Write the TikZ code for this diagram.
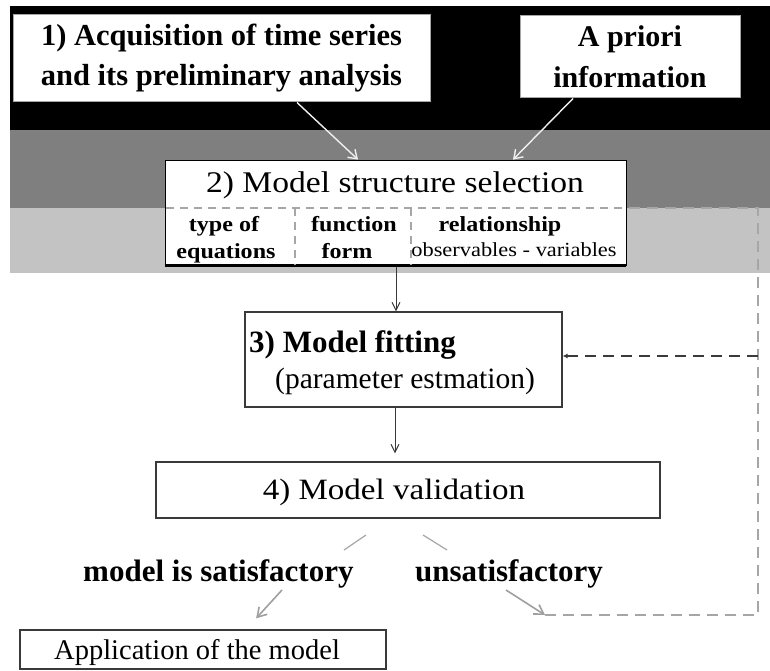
\documentclass[tikz,border=0pt]{standalone}
\usepackage{fontspec}
\setmainfont{Liberation Serif}
\newfontfamily\fA[FakeStretch=1.12]{Liberation Serif}
\usetikzlibrary{arrows.meta}
\definecolor{darkband}{HTML}{7F7F7F}
\definecolor{lightband}{HTML}{C3C3C3}
\definecolor{boxline}{HTML}{3A3A3A}
\begin{document}
\begin{tikzpicture}[x=1pt,y=-1pt,
  wbox/.style={draw=gray!70, line width=1pt, fill=white, inner sep=0pt, align=center},
  lbox/.style={draw=boxline, line width=1.2pt, fill=white, inner sep=0pt},
  txt/.style={anchor=base, inner sep=0pt},
  txtw/.style={anchor=base west, inner sep=0pt},
  lightarrow/.style={draw=gray!12, line width=1.4pt, -{Straight Barb[length=8pt,width=11pt]}},
  darkarrow/.style={draw=boxline, line width=1pt, -{Straight Barb[length=8pt,width=8pt]}},
  greyarrow/.style={draw=gray!75, line width=1.6pt, -{Straight Barb[length=9pt,width=11pt]}},
  tick/.style={draw=gray!70, line width=1.2pt},
  fb/.style={draw=gray!70, line width=1.5pt, dash pattern=on 11pt off 7pt},
  fbdark/.style={draw=boxline, line width=1.5pt, dash pattern=on 11pt off 7pt},
  sep/.style={draw=gray!70, line width=1.2pt, dash pattern=on 8pt off 6pt}
]
\useasboundingbox (0,0) rectangle (770,671);
\fill[white] (0,0) rectangle (770,671);
\fill[black] (10,6) rectangle (770,130);
\fill[darkband] (10,130) rectangle (770,208);
\fill[lightband] (10,208) rectangle (770,273);

% 1) acquisition
\node[wbox, minimum width=417pt, minimum height=87pt,
  font={\bfseries\fontsize{30.5}{40}\selectfont}] (acq) at (221.5,58.5)
  {1) Acquisition of time series\\ and its preliminary analysis};
% a priori
\node[wbox, minimum width=220pt, minimum height=82pt,
  font={\bfseries\fontsize{30}{41}\selectfont}] (apr) at (630,57)
  {A priori\\ information};

% 2) model structure selection
\node[draw=black, line width=0.8pt, fill=white, minimum width=461pt, minimum height=105pt, inner sep=0pt] (mss) at (395.5,212.5) {};
\draw[line width=2.6pt] (mss.south west) -- (mss.south east);
\node[txt] (mssT) at (395,192) {\fA\fontsize{30}{30}\selectfont 2) Model structure selection};
\coordinate (d1) at (166,208);
\coordinate (d2) at (625,208);
\draw[sep] (d1) -- (d2);
\draw[sep] (295,0 |- d1) -- (295,0 |- mss.south);
\draw[sep] (411,0 |- d1) -- (411,0 |- mss.south);
\node[txt] (c1a) at (224,231) {\fA\bfseries\fontsize{21.5}{21.5}\selectfont type of};
\node[txt] (c1b) at (226,258) {\fA\bfseries\fontsize{21.5}{21.5}\selectfont equations};
\node[txt] (c2a) at (354,231) {\fA\bfseries\fontsize{21.5}{21.5}\selectfont function};
\node[txt] (c2b) at (347,258) {\fA\bfseries\fontsize{21.5}{21.5}\selectfont form};
\node[txt] (c3a) at (500,231) {\fA\bfseries\fontsize{21.5}{21.5}\selectfont relationship};
\node[txt] (c3b) at (514,256) {\fA\fontsize{20}{20}\selectfont observables - variables};

% 3) model fitting
\node[lbox, minimum width=317pt, minimum height=95pt] (fit) at (403.5,359.5) {};
\node[txtw] (fitT) at (249,352) {\bfseries\fontsize{31}{31}\selectfont 3) Model fitting};
\node[txtw] (fitS) at (275,388) {\fontsize{29.5}{29.5}\selectfont (parameter estmation)};

% 4) model validation
\node[lbox, minimum width=504pt, minimum height=56pt] (val) at (408,490) {};
\node[txt] (valT) at (394,499) {\fA\fontsize{29.5}{29.5}\selectfont 4) Model validation};

% outcomes
\node[txtw] (sat) at (83,581) {\bfseries\fontsize{31}{31}\selectfont model is satisfactory};
\node[txtw] (uns) at (415,581) {\bfseries\fontsize{31}{31}\selectfont unsatisfactory};

% application
\node[lbox, minimum width=366pt, minimum height=39pt] (app) at (203,649.5) {};
\node[txtw] (appT) at (54,659) {\fontsize{28.5}{28.5}\selectfont Application of the model};

% arrows into box 2
\draw[lightarrow] (297,0 |- acq.south) -- (358,0 |- mss.north);
\draw[lightarrow] (573,0 |- apr.south) -- (513,0 |- mss.north);
% vertical flow
\draw[darkarrow] ([yshift=-1.5pt]396,0 |- mss.south) -- (396,0 |- fit.north);
\draw[darkarrow, shorten >=8pt] (395,0 |- fit.south) -- (395,0 |- val.north);
% ticks under validation
\coordinate (t1a) at (366,535); \coordinate (t1b) at (344,550);
\coordinate (t2a) at (423,535); \coordinate (t2b) at (447,550);
\draw[tick] (t1a) -- (t1b);
\draw[tick] (t2a) -- (t2b);
% outcome arrows
\coordinate (s1) at (282,590);
\coordinate (u0) at (506,590);
\coordinate (u1) at (545,615);
\draw[greyarrow, shorten >=15pt] (s1) -- (246,0 |- app.north);
\draw[greyarrow] (u0) -- (u1);
% feedback loop
\coordinate (c1) at (758,615);
\coordinate (c2) at (758,208);
\coordinate (c3) at (758,356);
\draw[fb] (u1) -- (c1) -- (c2) -- (d2);
\draw[fbdark, -{Latex[length=5pt,width=5pt]}] (c3) -- (fit.east |- c3);
\end{tikzpicture}
\end{document}
